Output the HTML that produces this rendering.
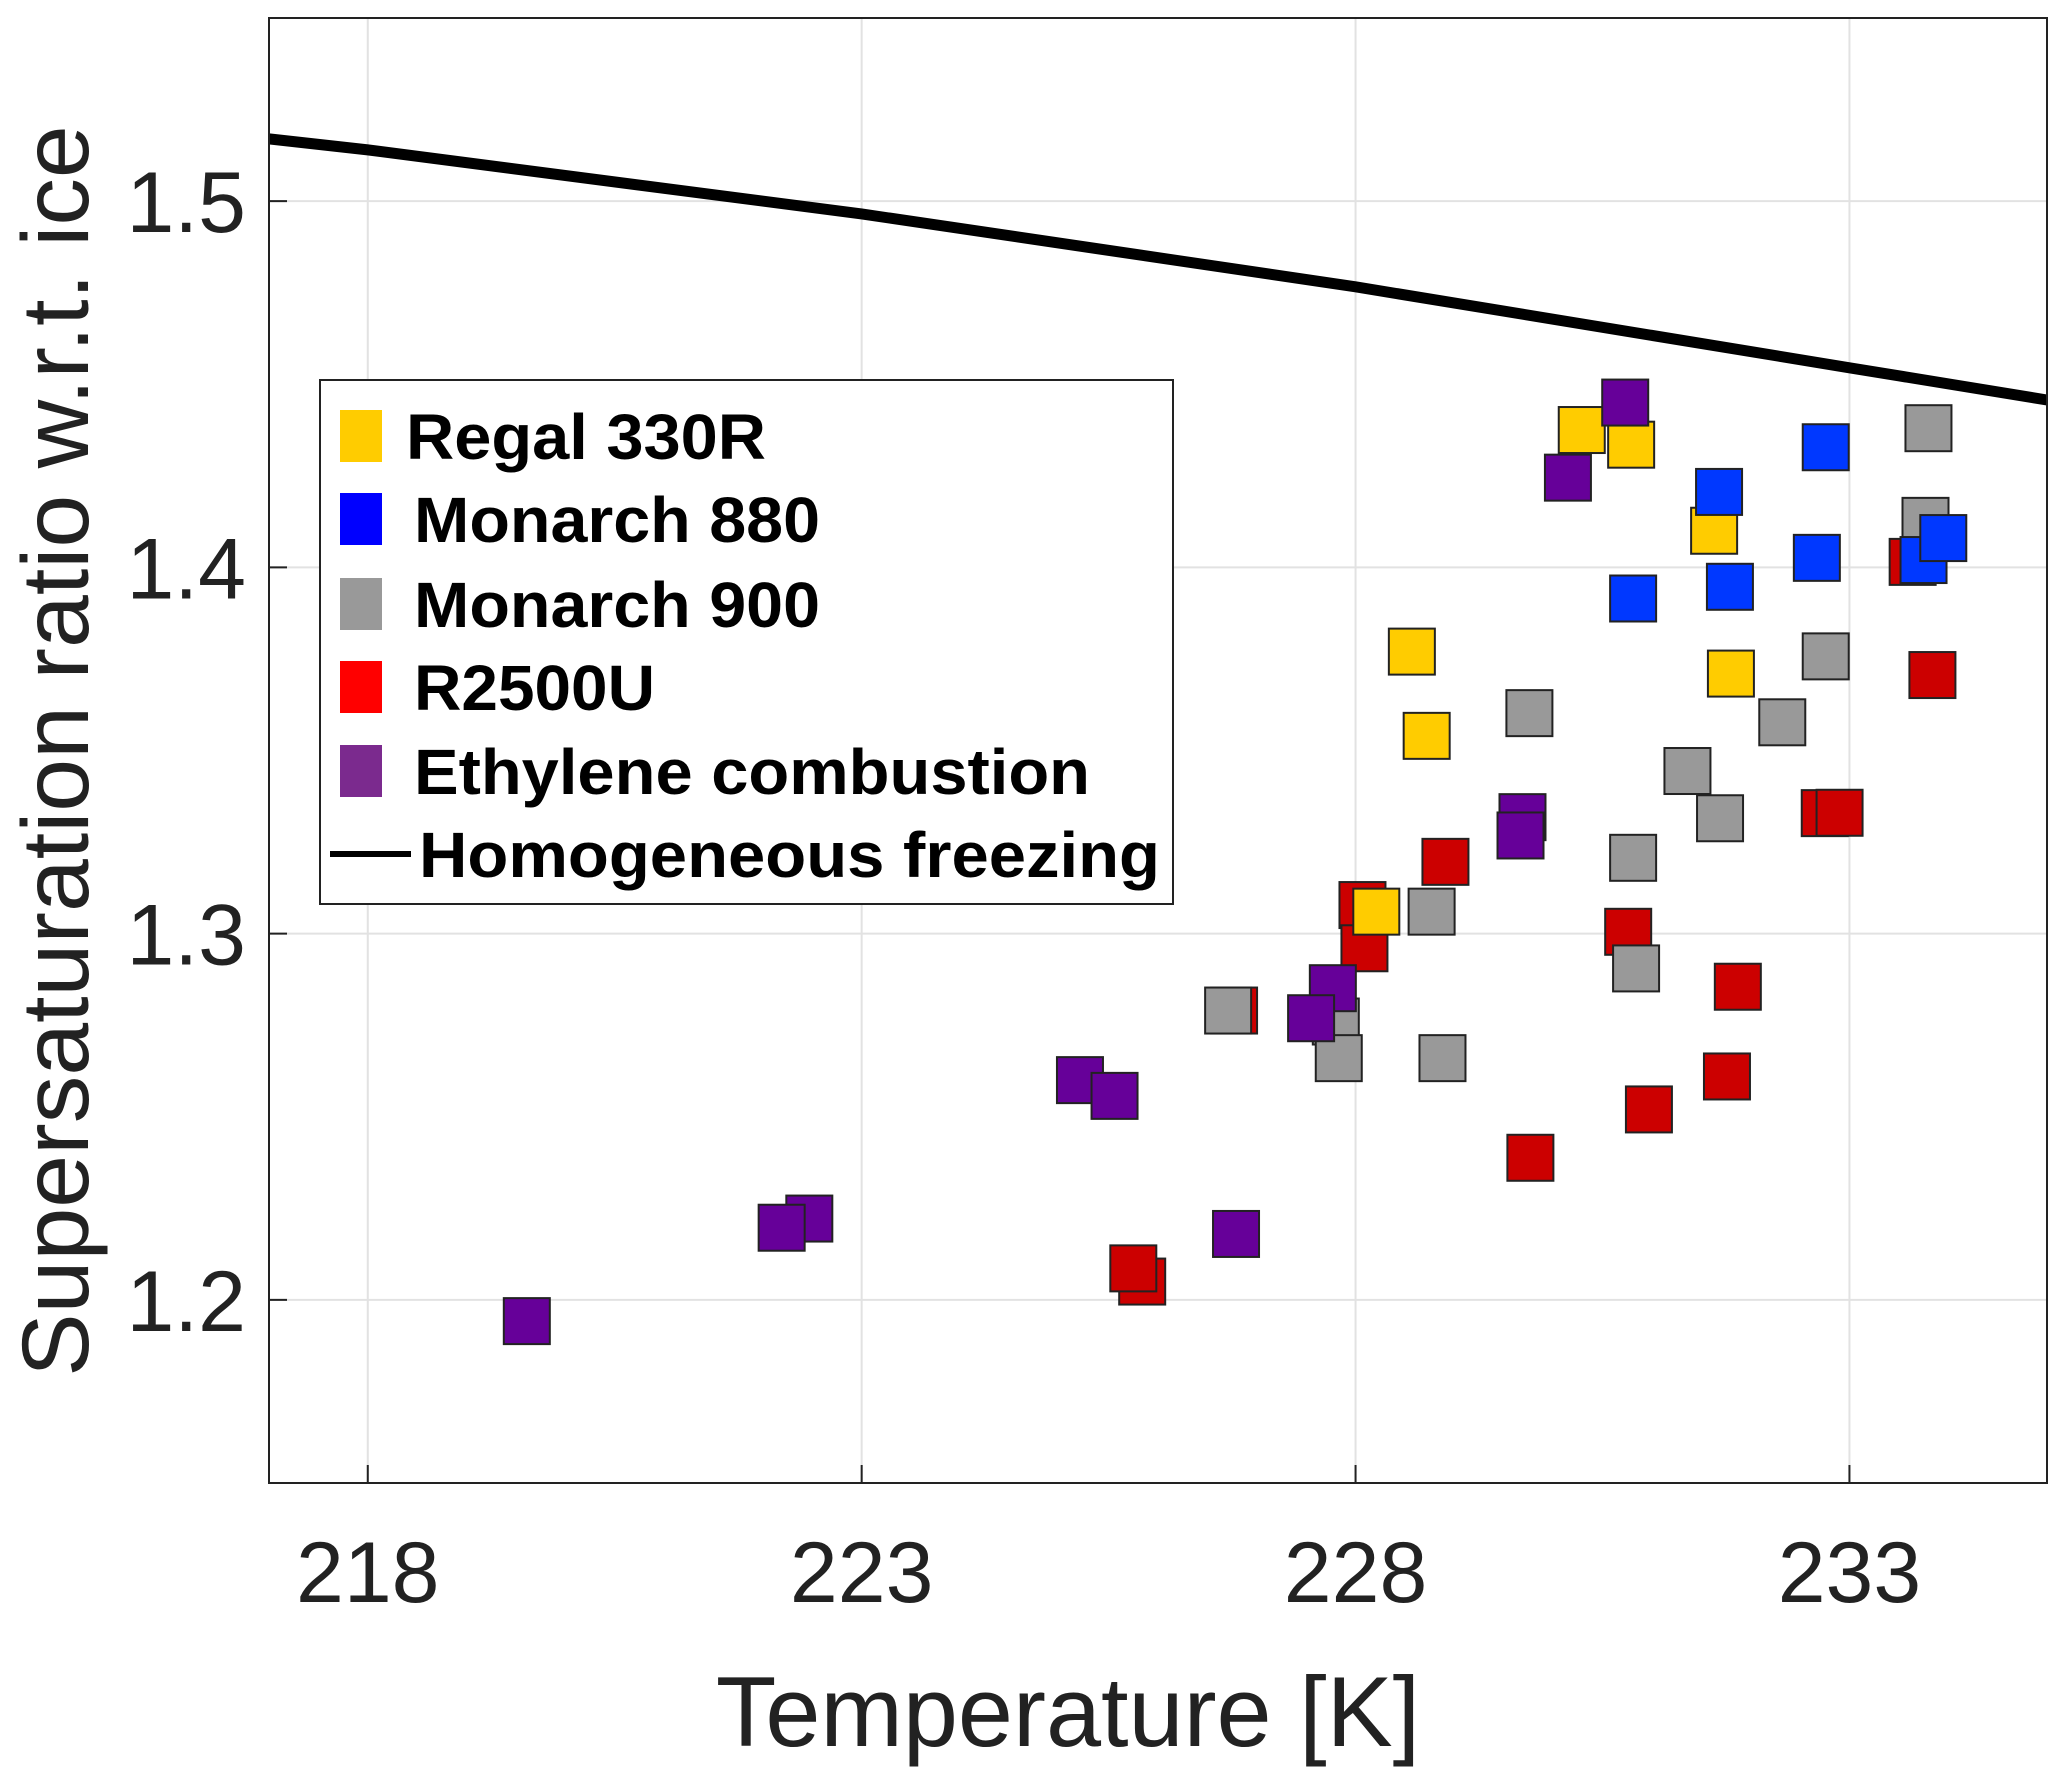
<!DOCTYPE html>
<html><head><meta charset="utf-8"><style>
html,body{margin:0;padding:0;background:#fff;}
svg{display:block;font-family:"Liberation Sans",Arial,sans-serif;}
</style></head><body>
<svg id="chart" width="2067" height="1785" viewBox="0 0 2067 1785" xmlns="http://www.w3.org/2000/svg">
<rect x="0" y="0" width="2067" height="1785" fill="#fff"/>
<g id="grid"></g>
<g id="line"></g>
<g id="marks"></g>
<rect x="269" y="18" width="1778" height="1465" fill="none" stroke="#222" stroke-width="2"/>
<g id="ticks"></g>
<text x="1068" y="1746" font-size="99" text-anchor="middle" fill="#222">Temperature [K]</text>
<text transform="translate(88,751) rotate(-90)" font-size="95" text-anchor="middle" fill="#222">Supersaturation ratio w.r.t. ice</text>
<g id="legend">
<rect x="320" y="380" width="853" height="524" fill="#fff" stroke="#222" stroke-width="2"/>
</g>
</svg>
<script>
const xTicks=[218,223,228,233];
const yTicks=[1.2,1.3,1.4,1.5];
const xDomain=[217,235], yDomain=[1.15,1.55];
const lineT=[217,218,223,228,233,235];
const lineS=[1.517,1.514,1.4965,1.4766,1.4545,1.4457];
const regalT=[230.29,230.79,231.63,228.57,228.72,231.8,228.21];
const regalS=[1.4375,1.4335,1.410,1.377,1.354,1.371,1.306];
const m880T=[231.68,232.76,230.81,231.79,232.67,233.75,233.95];
const m880S=[1.4206,1.4328,1.3915,1.3947,1.4026,1.402,1.408];
const m900T=[233.8,233.77,232.76,229.76,232.32,231.36,231.69,230.81,228.77,230.84,226.71,227.8,227.83,228.88];
const m900S=[1.438,1.4127,1.3757,1.3602,1.3577,1.3444,1.3315,1.3207,1.306,1.2905,1.279,1.276,1.266,1.266];
const r2500T=[233.64,233.84,232.75,232.9,228.91,228.07,228.09,230.76,231.87,231.76,230.97,229.77,226.77,225.84,225.75];
const r2500S=[1.4015,1.3706,1.3329,1.333,1.3196,1.3078,1.296,1.3005,1.2855,1.261,1.252,1.2388,1.279,1.205,1.2086];
const ethT=[230.73,230.15,229.69,229.67,227.77,227.55,225.21,225.56,222.47,222.19,226.79,219.61];
const ethS=[1.445,1.4245,1.3318,1.3268,1.2851,1.2769,1.26,1.2557,1.2222,1.2197,1.218,1.1942];
const seriesNames=["Regal 330R","Monarch 880","Monarch 900","R2500U","Ethylene combustion"];

const L=269,R=2047,T=18,B=1483;
const sx=v=>L+(v-xDomain[0])/(xDomain[1]-xDomain[0])*(R-L);
const sy=v=>B-(v-yDomain[0])/(yDomain[1]-yDomain[0])*(B-T);
const NS="http://www.w3.org/2000/svg";
function mk(tag,attrs,parent,text){const e=document.createElementNS(NS,tag);for(const k in attrs)e.setAttribute(k,attrs[k]);if(text!==undefined)e.textContent=text;parent.appendChild(e);return e;}
const grid=document.getElementById('grid'),ticks=document.getElementById('ticks');
xTicks.forEach(t=>{
  const g=mk('line',{x1:sx(t),x2:sx(t),y1:T,y2:B,stroke:'#e2e2e2','stroke-width':2},grid);
  
  
  const tk=mk('line',{x1:sx(t),x2:sx(t),y1:B,y2:B-18,stroke:'#222','stroke-width':2},ticks);
  
  
  const lb=mk('text',{x:sx(t),y:1602,'font-size':86,'text-anchor':'middle',fill:'#222'},ticks,String(t));
  
  
});
yTicks.forEach(t=>{
  const g=mk('line',{x1:L,x2:R,y1:sy(t),y2:sy(t),stroke:'#e2e2e2','stroke-width':2},grid);
  
  
  const tk=mk('line',{x1:L,x2:L+18,y1:sy(t),y2:sy(t),stroke:'#222','stroke-width':2},ticks);
  
  
  const lb=mk('text',{x:246,y:sy(t)+31,'font-size':86,'text-anchor':'end',fill:'#222'},ticks,t.toFixed(1));
  
  
});
const pts=lineT.map((t,i)=>sx(t)+','+sy(lineS[i])).join(' ');
const pl=mk('polyline',{points:pts,fill:'none',stroke:'#000','stroke-width':11,'stroke-linejoin':'round'},document.getElementById('line'));


const marks=document.getElementById('marks');
const series=[[regalT,regalS,'#ffcc00','regal-330r'],[m880T,m880S,'#0038ff','monarch-880'],[m900T,m900S,'#999999','monarch-900'],[r2500T,r2500S,'#cc0000','r2500u'],[ethT,ethS,'#660099','ethylene-combustion']];
const order=[3,2,0,1,4];
order.forEach(si=>{const [xs,ys,c,n]=series[si];
  xs.forEach((x,i)=>{const s=46;
    const r=mk('rect',{x:sx(x)-s/2,y:sy(ys[i])-s/2,width:s,height:s,fill:c,stroke:'#222','stroke-width':2},marks);
    
    
  });
});
const leg=document.getElementById('legend');
const rows=[436,519,604,687,771,854];
const lcol=['#ffcc00','#0000ff','#999999','#ff0000','#7b2a8e'];
const lw=[360,406,406,241,676];
seriesNames.forEach((nm,i)=>{
  const r=mk('rect',{x:340,y:rows[i]-26,width:42,height:52,fill:lcol[i]},leg);
  
  
  const t=mk('text',{x:i==0?406:414,y:rows[i]+23,'font-size':64,'font-weight':'bold',fill:'#000',textLength:lw[i],lengthAdjust:'spacingAndGlyphs'},leg,nm);
  
  
});
const ll=mk('line',{x1:330,x2:411,y1:rows[5],y2:rows[5],stroke:'#000','stroke-width':6},leg);


const lt=mk('text',{x:419,y:rows[5]+23,'font-size':64,'font-weight':'bold',fill:'#000',textLength:741,lengthAdjust:'spacingAndGlyphs'},leg,'Homogeneous freezing');


</script>
</body></html>
